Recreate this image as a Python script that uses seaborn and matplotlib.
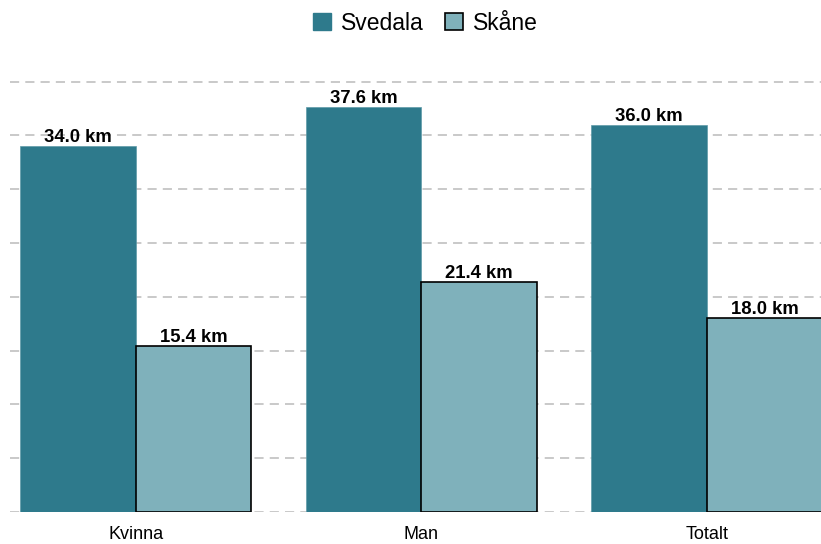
import matplotlib
matplotlib.use("Agg")
import matplotlib.pyplot as plt
import seaborn as sns
import pandas as pd
from matplotlib.patches import Patch

categories = ["Kvinna", "Man", "Totalt"]
svedala = [34.0, 37.6, 36.0]
skane = [15.4, 21.4, 18.0]
series_names = ["Svedala", "Skåne"]

df = pd.DataFrame({
    "kategori": categories * 2,
    "serie": [series_names[0]] * 3 + [series_names[1]] * 3,
    "km": svedala + skane,
})

sns.set_theme(style="white")
plt.rcParams["font.family"] = ["Liberation Sans", "DejaVu Sans"]
plt.rcParams["text.color"] = "black"

fig = plt.figure(figsize=(8.21, 5.44), dpi=100)
ymax = 40.5
ax = fig.add_axes([10 / 821, 32 / 544, 811 / 821, ymax * 10.76 / 544])

colors = {"Svedala": "#2E7A8C", "Skåne": "#7FB1BB"}
sns.barplot(data=df, x="kategori", y="km", hue="serie", palette=colors,
            width=0.81, ax=ax, legend=False, saturation=1)

for i, cont in enumerate(ax.containers):
    for p in cont.patches:
        if i == 1:
            p.set_edgecolor("black")
            p.set_linewidth(1.2)
        else:
            p.set_edgecolor("#5E9AA8")
            p.set_linewidth(0.5)
    ax.bar_label(cont, labels=[f"{v:.1f} km" for v in cont.datavalues],
                 padding=0, fontsize=13.3, fontweight="bold", color="black")

ax.set_xlim(-0.44, 2.40)
ax.set_ylim(0, ymax)
ax.set_yticks(range(0, 41, 5))
ax.yaxis.grid(True, color="#BBBBBB", linestyle=(0, (6, 4)), linewidth=1.1)
ax.set_axisbelow(True)
ax.tick_params(axis="y", left=False, labelleft=False)
ax.tick_params(axis="x", bottom=False, length=0, labelsize=13, pad=10,
               colors="black", labelcolor="black")
ax.set_xlabel("")
ax.set_ylabel("")
for s in ax.spines.values():
    s.set_visible(False)

handles = [Patch(facecolor=colors["Svedala"], edgecolor=colors["Svedala"]),
           Patch(facecolor=colors["Skåne"], edgecolor="black", linewidth=1.2)]
leg = fig.legend(handles, series_names, loc="center",
                 bbox_to_anchor=(425.5 / 821, 1 - 23 / 544),
                 ncol=2, frameon=False, fontsize=16.5, handlelength=0.78,
                 handleheight=0.78, columnspacing=0.9, handletextpad=0.45)
for t in leg.get_texts():
    t.set_color("black")

fig.savefig("out.png", dpi=100)
